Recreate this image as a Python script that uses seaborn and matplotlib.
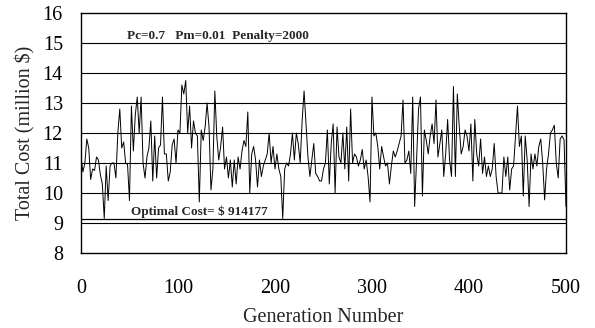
import numpy as np
import pandas as pd
import matplotlib
matplotlib.use("Agg")
import matplotlib.pyplot as plt
import seaborn as sns

# Generation numbers (every 2nd generation)
generations = list(range(0, 501, 2))

# Total cost per generation (million $)
total_cost = [
    11.2, 10.7, 11.0, 11.8, 11.5, 10.45, 10.8, 10.75, 11.2, 11.1,
    10.6, 10.3, 9.15, 10.9, 9.75, 10.9, 11.0, 11.0, 10.5, 12.0,
    12.8, 11.5, 11.7, 11.0, 10.95, 9.75, 12.9, 11.4, 12.6, 13.2,
    12.0, 13.2, 11.0, 10.5, 11.2, 11.5, 12.4, 10.4, 11.9, 10.5,
    11.5, 11.6, 13.2, 11.3, 11.3, 10.4, 10.7, 11.6, 11.8, 11.0,
    12.1, 12.0, 13.6, 13.3, 13.75, 12.0, 12.9, 11.5, 12.4, 12.0,
    11.9, 9.7, 12.1, 11.75, 12.2, 13.0, 12.2, 10.1, 10.8, 13.4,
    11.9, 11.1, 11.55, 12.2, 10.8, 11.2, 10.5, 11.1, 10.2, 11.1,
    10.3, 11.2, 10.8, 11.4, 11.75, 11.55, 12.7, 10.0, 11.3, 11.55,
    11.1, 10.2, 11.1, 10.55, 10.9, 11.1, 11.3, 12.0, 11.0, 11.55,
    10.8, 11.3, 10.8, 10.55, 9.15, 10.8, 11.0, 10.9, 11.3, 12.0,
    11.1, 12.0, 11.65, 11.0, 12.4, 13.4, 12.3, 11.2, 10.55, 11.1,
    11.65, 10.65, 10.55, 10.4, 10.4, 10.8, 11.0, 12.1, 10.3, 11.65,
    12.3, 10.0, 12.2, 11.2, 11.0, 12.0, 10.8, 12.2, 10.4, 12.8,
    11.0, 11.3, 11.2, 10.9, 11.1, 11.45, 10.8, 11.1, 10.55, 9.7,
    13.2, 11.9, 12.0, 11.55, 10.8, 11.55, 11.2, 10.9, 11.0, 10.3,
    10.9, 11.4, 11.2, 11.4, 11.65, 11.9, 13.1, 11.0, 11.1, 11.4,
    10.65, 13.2, 9.55, 11.1, 12.8, 13.2, 9.9, 12.1, 11.75, 11.3,
    11.9, 12.3, 11.65, 13.1, 11.2, 11.65, 12.1, 10.55, 11.3, 12.45,
    11.1, 10.55, 13.55, 10.55, 13.3, 12.2, 11.3, 11.55, 12.1, 11.9,
    11.4, 12.3, 10.4, 12.45, 11.3, 10.9, 11.8, 10.65, 11.2, 10.55,
    10.9, 10.55, 10.8, 11.65, 10.55, 10.0, 10.0, 10.0, 11.2, 10.55,
    11.2, 10.1, 10.8, 10.9, 11.9, 12.9, 11.55, 11.9, 9.9, 11.9,
    11.1, 9.55, 11.3, 10.8, 11.3, 10.9, 11.55, 11.8, 11.0, 9.77,
    10.8, 11.3, 12.0, 12.1, 12.26, 11.0, 10.5, 11.8, 11.9, 11.77,
    9.55,
]

optimal_cost = 9.14177
x_ticks = [0, 100, 200, 300, 400, 500]
y_ticks = [8, 9, 10, 11, 12, 13, 14, 15, 16]

df = pd.DataFrame({"Generation": generations, "Cost": total_cost})

sns.set_style("white")
plt.rcParams["font.family"] = ["Liberation Serif", "DejaVu Serif"]

fig = plt.figure(figsize=(5.95, 3.28), dpi=100)
ax = fig.add_axes([0.1361, 0.2287, 0.8151, 0.7317])

# horizontal grid lines
for yv in y_ticks[1:-1]:
    ax.axhline(yv, color="black", lw=0.8, zorder=1)

sns.lineplot(data=df, x="Generation", y="Cost", color="black", lw=0.7, ax=ax, zorder=3)

# optimal cost line
ax.axhline(optimal_cost, color="black", lw=0.9, zorder=2)

ax.text(141, 15.23, "Pc=0.7   Pm=0.01  Penalty=2000", ha="center", va="center",
        fontsize=9.5, fontweight="bold")
ax.text(122, 9.38, "Optimal Cost= $ 914177", ha="center", va="center",
        fontsize=9.5, fontweight="bold")

ax.set_xlim(0, 500)
ax.set_ylim(8, 16)
ax.set_xticks(x_ticks)
ax.set_yticks(y_ticks)
ax.tick_params(axis="both", direction="out", length=4, width=1, labelsize=14.5,
               colors="black")
ax.tick_params(axis="y", pad=9)
ax.tick_params(axis="x", pad=15)
for s in ax.spines.values():
    s.set_visible(True)
    s.set_color("black")
    s.set_linewidth(1.0)

ax.set_xlabel("Generation Number", fontsize=14.5, labelpad=7)
ax.set_ylabel("Total Cost (million $)", fontsize=14.5, labelpad=5)

fig.savefig("out.png", dpi=100)
